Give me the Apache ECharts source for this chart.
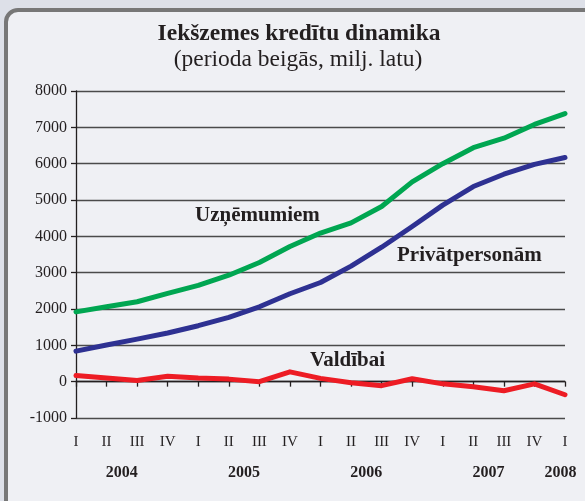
<!DOCTYPE html>
<html>
<head>
<meta charset="utf-8">
<script src="https://cdn.jsdelivr.net/npm/echarts@6/dist/echarts.min.js"></script>
<style>
  html, body { margin: 0; padding: 0; background: #dde0e8; }
  #chart { width: 585px; height: 501px; }
</style>
</head>
<body>
<div id="chart"></div>
<script>
const quarters = ["I", "II", "III", "IV", "I", "II", "III", "IV", "I", "II", "III", "IV", "I", "II", "III", "IV", "I"];
const years = ["2004", "2005", "2006", "2007", "2008"];
const yearPos = [1.5, 5.5, 9.5, 13.5, 15.85];

const uznemumiem = [1920, 2060, 2200, 2430, 2650, 2930, 3280, 3720, 4090, 4370, 4820, 5500, 6000, 6440, 6700, 7080, 7380];
const privatpersonam = [840, 1010, 1170, 1340, 1540, 1770, 2060, 2420, 2730, 3180, 3700, 4270, 4860, 5370, 5710, 5980, 6170];
const valdibai = [170, 100, 30, 150, 100, 70, 0, 270, 90, -30, -110, 80, -60, -140, -250, -60, -360];

const serif = "'Liberation Serif', 'DejaVu Serif', serif";
const chart = echarts.init(document.getElementById("chart"));

const option = {
  backgroundColor: "#dde0e8",
  animation: false,
  textStyle: { fontFamily: serif },
  graphic: [
    {
      type: "rect",
      z: -10,
      shape: { x: 6, y: 10, width: 620, height: 540, r: 12 },
      style: { fill: "#eff0f4", stroke: "#777777", lineWidth: 4 }
    },
    {
      type: "text", x: 299, y: 22, z: 10,
      style: { text: "Iekšzemes kredītu dinamika", font: "bold 23.5px " + serif, fill: "#231f20", textAlign: "center" }
    },
    {
      type: "text", x: 298, y: 48, z: 10,
      style: { text: "(perioda beigās, milj. latu)", font: "23.5px " + serif, fill: "#231f20", textAlign: "center" }
    },
    {
      type: "text", x: 195, y: 205, z: 10,
      style: { text: "Uzņēmumiem", font: "bold 21px " + serif, fill: "#231f20" }
    },
    {
      type: "text", x: 397, y: 245, z: 10,
      style: { text: "Privātpersonām", font: "bold 21px " + serif, fill: "#231f20" }
    },
    {
      type: "text", x: 310, y: 350, z: 10,
      style: { text: "Valdībai", font: "bold 21px " + serif, fill: "#231f20" }
    }
  ],
  grid: { left: 76, right: 20, top: 91, bottom: 83, containLabel: false },
  xAxis: [
    {
      type: "category",
      data: quarters,
      boundaryGap: false,
      axisLine: { onZero: false, show: false },
      axisTick: { show: false },
      axisLabel: { margin: 17, color: "#231f20", fontSize: 15, fontFamily: serif, interval: 0 },
      splitLine: { show: false }
    },
    {
      type: "category",
      data: quarters,
      boundaryGap: false,
      position: "bottom",
      axisLine: { onZero: true, lineStyle: { color: "#231f20", width: 1.3 } },
      axisTick: { show: true, inside: false, length: 5, interval: 0, lineStyle: { color: "#231f20", width: 1.3 } },
      axisLabel: { show: false },
      splitLine: { show: false }
    },
    {
      type: "value",
      min: 0,
      max: 16,
      position: "bottom",
      axisLine: { onZero: false, show: false },
      axisTick: { show: false },
      splitLine: { show: false },
      axisLabel: {
        margin: 47,
        customValues: yearPos,
        formatter: (v) => years[yearPos.indexOf(v)],
        color: "#231f20",
        fontSize: 16,
        fontWeight: "bold",
        fontFamily: serif
      }
    }
  ],
  yAxis: {
    type: "value",
    min: -1000,
    max: 8000,
    interval: 1000,
    axisLine: { show: true, onZero: false, lineStyle: { color: "#231f20", width: 1.3 } },
    axisTick: { show: true, length: 5, lineStyle: { color: "#231f20", width: 1.3 } },
    axisLabel: { margin: 9, color: "#231f20", fontSize: 16, fontFamily: serif, formatter: (v) => String(v) },
    splitLine: { show: true, lineStyle: { color: "#4a4a4a", width: 1.3 } }
  },
  series: [
    {
      name: "Uzņēmumiem",
      type: "line",
      data: uznemumiem,
      symbol: "none",
      lineStyle: { color: "#00a651", width: 5, cap: "round", join: "round" },
      z: 3
    },
    {
      name: "Privātpersonām",
      type: "line",
      data: privatpersonam,
      symbol: "none",
      lineStyle: { color: "#2e3192", width: 5, cap: "round", join: "round" },
      z: 3
    },
    {
      name: "Valdībai",
      type: "line",
      data: valdibai,
      symbol: "none",
      lineStyle: { color: "#ed1c24", width: 5, cap: "round", join: "round" },
      z: 3
    }
  ]
};

chart.setOption(option);
window.addEventListener("resize", () => chart.resize());
</script>
</body>
</html>
